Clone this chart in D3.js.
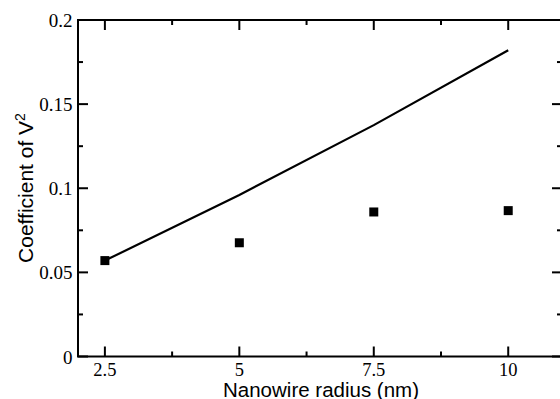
<!DOCTYPE html>
<html>
<head>
<meta charset="utf-8">
<script src="https://cdn.jsdelivr.net/npm/d3@7"></script>
<style>
  body { margin: 0; background: #fff; }
  svg { display: block; }
</style>
</head>
<body>
<div id="chart"></div>
<script>
// radius values (nm)
var radius = [2.5, 5, 7.5, 10];
// solid line series
var lineValues = [0.057, 0.096, 0.1375, 0.182];
// square markers
var squareValues = [0.057, 0.0676, 0.0859, 0.0867];

var xMajor = [2.5, 5, 7.5, 10];
var xMinor = [3.75, 6.25, 8.75];
var yMajor = [0, 0.05, 0.1, 0.15, 0.2];
var yMinor = [0.025, 0.075, 0.125, 0.175];
var yLabels = ["0", "0.05", "0.1", "0.15", "0.2"];

var W = 560, H = 399;
var margin = { left: 78, top: 20, right: -2, bottom: 42.5 };

var svg = d3.select("#chart")
    .append("svg")
        .attr("width", W)
        .attr("height", H);

var x = d3.scaleLinear()
    .domain([2, 11])
    .range([margin.left, W - margin.right]);

var y = d3.scaleLinear()
    .domain([0, 0.2])
    .range([H - margin.bottom, margin.top]);

var x0 = x.range()[0], x1 = x.range()[1],
    y0 = y.range()[0], y1 = y.range()[1];

// ticks (inside the frame on all four sides)
var ticks = svg.append("g")
    .attr("stroke", "#000")
    .attr("stroke-width", 2);

function xTick(v, len){
    ticks.append("line").attr("x1", x(v)).attr("x2", x(v)).attr("y1", y0).attr("y2", y0 - len);
    ticks.append("line").attr("x1", x(v)).attr("x2", x(v)).attr("y1", y1).attr("y2", y1 + len);
}
function yTick(v, len){
    ticks.append("line").attr("x1", x0).attr("x2", x0 + len).attr("y1", y(v)).attr("y2", y(v));
    ticks.append("line").attr("x1", x1).attr("x2", x1 - len).attr("y1", y(v)).attr("y2", y(v));
}
xMajor.forEach(function(v){ xTick(v, 10); });
xMinor.forEach(function(v){ xTick(v, 5); });
yMajor.forEach(function(v){ yTick(v, 10); });
yMinor.forEach(function(v){ yTick(v, 5); });

// frame
svg.append("rect")
    .attr("x", x0)
    .attr("y", y1)
    .attr("width", x1 - x0)
    .attr("height", y0 - y1)
    .attr("fill", "none")
    .attr("stroke", "#000")
    .attr("stroke-width", 2);

// tick labels
svg.append("g").selectAll("text")
    .data(xMajor)
    .enter()
    .append("text")
        .attr("x", function(d){ return x(d); })
        .attr("y", 376)
        .attr("text-anchor", "middle")
        .attr("font-family", "'Liberation Serif', 'Times New Roman', serif")
        .attr("font-size", "18.5px")
        .text(function(d){ return d; });

svg.append("g").selectAll("text")
    .data(yMajor)
    .enter()
    .append("text")
        .attr("x", 72.5)
        .attr("y", function(d){ return y(d) + 7; })
        .attr("text-anchor", "end")
        .attr("font-family", "'Liberation Serif', 'Times New Roman', serif")
        .attr("font-size", "19px")
        .text(function(d, i){ return yLabels[i]; });

// axis titles
svg.append("text")
    .attr("x", 321)
    .attr("y", 396.5)
    .attr("text-anchor", "middle")
    .attr("font-family", "'Liberation Sans', Arial, sans-serif")
    .attr("font-size", "20.5px")
    .text("Nanowire radius (nm)");

var ylab = svg.append("text")
    .attr("transform", "translate(33,188) rotate(-90)")
    .attr("text-anchor", "middle")
    .attr("font-family", "'Liberation Sans', Arial, sans-serif")
    .attr("font-size", "21px");
ylab.append("tspan").text("Coefficient of V");
ylab.append("tspan").attr("dy", -8).attr("font-size", "14px").text("2");

// line series
var line = d3.line()
    .x(function(d){ return x(d[0]); })
    .y(function(d){ return y(d[1]); });

svg.append("path")
    .datum(d3.zip(radius, lineValues))
    .attr("d", line)
    .attr("fill", "none")
    .attr("stroke", "#000")
    .attr("stroke-width", 2.2);

// square markers
var s = 9;
svg.append("g").selectAll("rect")
    .data(d3.zip(radius, squareValues))
    .enter()
    .append("rect")
        .attr("x", function(d){ return x(d[0]) - s / 2; })
        .attr("y", function(d){ return y(d[1]) - s / 2; })
        .attr("width", s)
        .attr("height", s)
        .attr("fill", "#000");
</script>
</body>
</html>
